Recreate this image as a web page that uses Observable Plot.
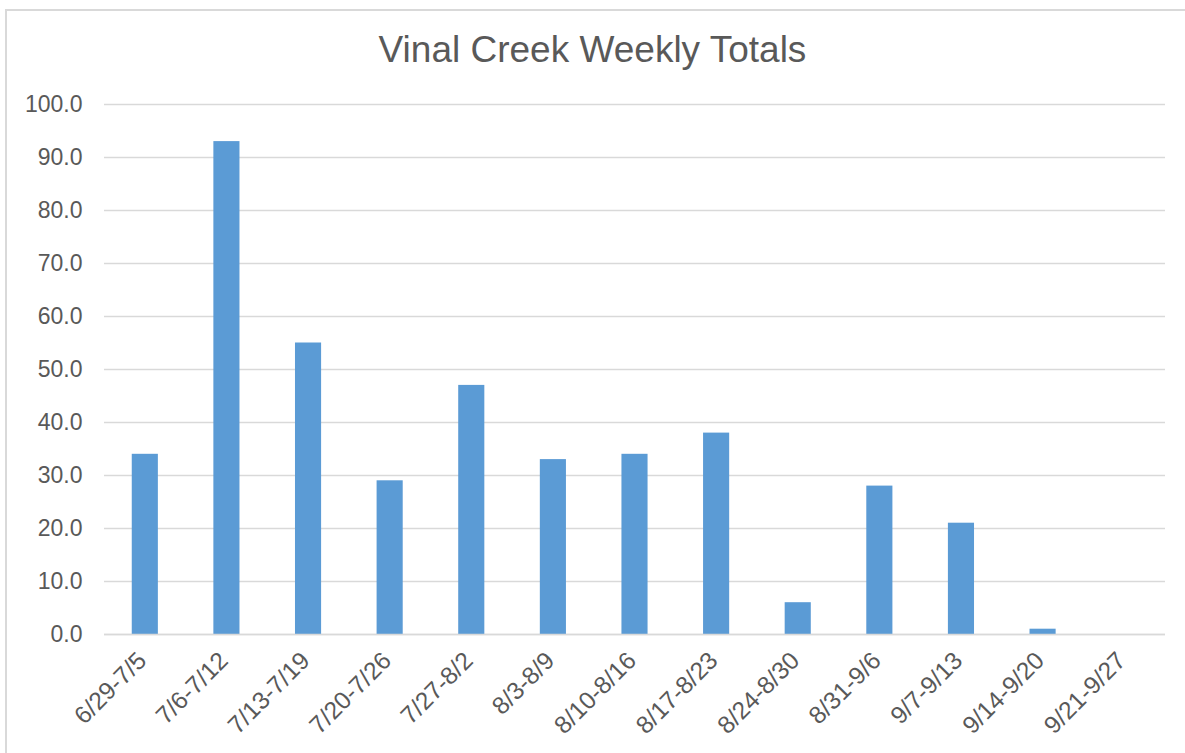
<!DOCTYPE html>
<html>
<head>
<meta charset="utf-8">
<script src="https://cdn.jsdelivr.net/npm/d3@7"></script>
<script src="https://cdn.jsdelivr.net/npm/@observablehq/plot@0.6"></script>
<style>
  html, body { margin: 0; padding: 0; background: #fff; }
  #wrap { position: relative; width: 1185px; height: 753px; overflow: hidden; font-family: "Liberation Sans", Arial, sans-serif; }
  #frame { position: absolute; left: 5px; top: 9px; width: 1200px; height: 800px; border: 2px solid #d9d9d9; box-sizing: border-box; }
  #title { position: absolute; left: 0; width: 1185px; top: 29px; text-align: center; font-size: 37px; color: #595959; }
  #chart { position: absolute; left: 0; top: 0; }
</style>
</head>
<body>
<div id="wrap">
  <div id="frame"></div>
  <div id="title">Vinal Creek Weekly Totals</div>
  <div id="chart"></div>
</div>
<script>
const weeks = ["6/29-7/5", "7/6-7/12", "7/13-7/19", "7/20-7/26", "7/27-8/2", "8/3-8/9", "8/10-8/16", "8/17-8/23", "8/24-8/30", "8/31-9/6", "9/7-9/13", "9/14-9/20", "9/21-9/27"];
const totals = [34, 93, 55, 29, 47, 33, 34, 38, 6, 28, 21, 1, 0];
const yTicks = [0, 10, 20, 30, 40, 50, 60, 70, 80, 90, 100];

const data = weeks.map((w, i) => ({week: w, total: totals[i]}));

const chart = Plot.plot({
  width: 1185,
  height: 753,
  marginLeft: 104,
  marginRight: 20,
  marginTop: 104,
  marginBottom: 119,
  style: {fontFamily: "'Liberation Sans', Arial, sans-serif", fontSize: "23px", color: "#595959", background: "transparent"},
  x: {domain: weeks, paddingInner: 0.68, paddingOuter: 0.34, round: false, label: null},
  y: {domain: [0, 100], label: null},
  marks: [
    Plot.gridY(yTicks, {stroke: "#d9d9d9", strokeOpacity: 1, strokeWidth: 1.5}),
    Plot.barY(data, {x: "week", y: "total", fill: "#5b9bd5"}),
    Plot.ruleY([0], {stroke: "#d9d9d9", strokeWidth: 1.5}),
    Plot.axisY(yTicks, {tickSize: 0, tickPadding: 22, fontSize: 23, tickFormat: d => d.toFixed(1), label: null, fill: "#595959"}),
    Plot.axisX({tickSize: 0, tickPadding: 22, dx: -3, fontSize: 24.5, tickRotate: -45, label: null, fill: "#595959"})
  ]
});
document.getElementById("chart").appendChild(chart);
</script>
</body>
</html>
